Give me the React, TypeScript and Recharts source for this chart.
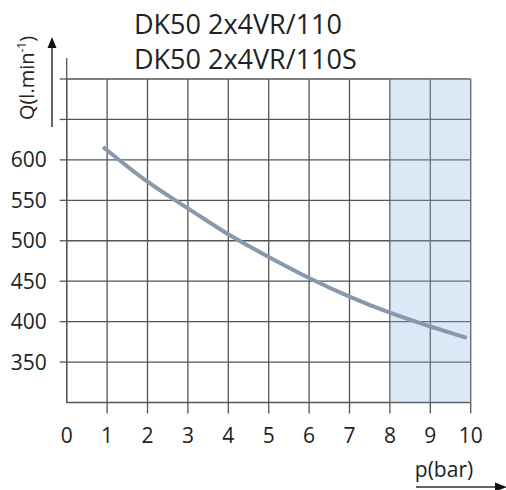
import React from 'react';
import { LineChart, Line, XAxis, YAxis, CartesianGrid, ReferenceArea, ReferenceLine } from 'recharts';

// Curve: pressure p (bar) vs flow Q (l/min)
const pressure = [0.9, 2, 3, 4, 5, 6, 7, 8, 9, 9.9];
const flow = [616, 573, 540, 508, 480, 454, 431, 411, 394, 380];

const xTicks = [0, 1, 2, 3, 4, 5, 6, 7, 8, 9, 10];
const yTicks = [300, 350, 400, 450, 500, 550, 600, 650, 700];
const yLabelled = [350, 400, 450, 500, 550, 600];

const shadeFrom = 8;
const shadeTo = 10;
const axisTop = 726;

const titleLines = ['DK50 2x4VR/110', 'DK50 2x4VR/110S'];
const yTitle = 'Q(l.min';
const yTitleSup = '-1';
const xTitle = 'p(bar)';

const FONT = '"Open Sans", "Noto Sans", sans-serif';
const INK = '#222';
const GRID = '#555';

const data = pressure.map((p, i) => ({ p, q: flow[i] }));

const LeftTick = (props: any) => {
  const { x, y, payload } = props;
  const v = payload.value;
  return (
    <g>
      {v !== 300 && <line x1={x - 7} y1={y} x2={x} y2={y} stroke={GRID} strokeWidth={1.3} />}
      {yLabelled.includes(v) && (
        <text x={x - 20} y={y} dy="0.36em" textAnchor="end" fontSize={21} fontFamily={FONT} fill={INK}>
          {v}
        </text>
      )}
    </g>
  );
};

const RightTick = (props: any) => {
  const { x, y } = props;
  return <line x1={x} y1={y} x2={x + 12} y2={y} stroke={GRID} strokeWidth={1.3} />;
};

const BottomTick = (props: any) => {
  const { x, y, payload } = props;
  const v = payload.value;
  return (
    <g>
      {v !== 0 && <line x1={x} y1={y} x2={x} y2={y + 11} stroke={GRID} strokeWidth={1.3} />}
      <text x={x} y={y + 40} textAnchor="middle" fontSize={21} fontFamily={FONT} fill={INK}>
        {v}
      </text>
    </g>
  );
};

export default function App() {
  return (
    <div style={{ position: 'absolute', left: 0, top: 0, width: 506, height: 490, background: '#fff' }}>
      <div
        style={{
          position: 'absolute',
          left: 134,
          top: 6,
          fontFamily: FONT,
          fontSize: 27,
          lineHeight: '35px',
          color: INK,
          whiteSpace: 'nowrap',
        }}
      >
        {titleLines.map((t) => (
          <div key={t}>{t}</div>
        ))}
      </div>
      <LineChart width={506} height={490} data={data} margin={{ top: 79, right: 0, bottom: 0, left: 0 }}>
        <CartesianGrid stroke={GRID} strokeWidth={1.3} horizontalValues={yTicks} verticalValues={xTicks} />
        {/* translucent so the grid shows through, like the reference */}
        <ReferenceArea x1={shadeFrom} x2={shadeTo} y1={300} y2={700} fill="#8ab2e1" fillOpacity={0.3} stroke="none" />
        <XAxis
          dataKey="p"
          type="number"
          domain={[0, 10]}
          ticks={xTicks}
          interval={0}
          height={87.5}
          axisLine={false}
          tickLine={false}
          tickSize={0}
          tickMargin={0}
          tick={<BottomTick />}
        />
        <YAxis
          type="number"
          domain={[300, 700]}
          ticks={yTicks}
          interval={0}
          width={66.7}
          axisLine={false}
          tickLine={false}
          tickSize={0}
          tickMargin={0}
          tick={<LeftTick />}
        />
        <YAxis
          yAxisId="r"
          orientation="right"
          type="number"
          domain={[300, 700]}
          ticks={yTicks}
          interval={0}
          width={35.3}
          axisLine={false}
          tickLine={false}
          tickSize={0}
          tickMargin={0}
          tick={<RightTick />}
        />
        <ReferenceLine
          segment={[{ x: 0, y: 300 }, { x: 0, y: axisTop }]}
          stroke={GRID}
          strokeWidth={1.3}
          ifOverflow="visible"
        />
        <Line
          type="natural"
          dataKey="q"
          stroke="#8799aa"
          strokeWidth={4}
          dot={false}
          isAnimationActive={false}
        />
      </LineChart>
      <svg width={506} height={490} style={{ position: 'absolute', left: 0, top: 0, pointerEvents: 'none' }}>
        <text
          transform="translate(34,78) rotate(-90)"
          textAnchor="middle"
          fontSize={20}
          fontFamily={FONT}
          fill={INK}
        >
          {yTitle}
          <tspan dy={-8} fontSize={12}>{yTitleSup}</tspan>
          <tspan dy={8}>)</tspan>
        </text>
        <line x1={52} y1={127} x2={52} y2={46} stroke="#333" strokeWidth={1.5} />
        <polygon points="52,37 47.5,48 56.5,48" fill="#111" />
        <text x={444} y={477} textAnchor="middle" fontSize={21} fontFamily={FONT} fill={INK}>
          {xTitle}
        </text>
        <line x1={416} y1={487} x2={497} y2={487} stroke="#333" strokeWidth={1.5} />
        <polygon points="507,487 495,482.5 495,491.5" fill="#111" />
      </svg>
    </div>
  );
}
